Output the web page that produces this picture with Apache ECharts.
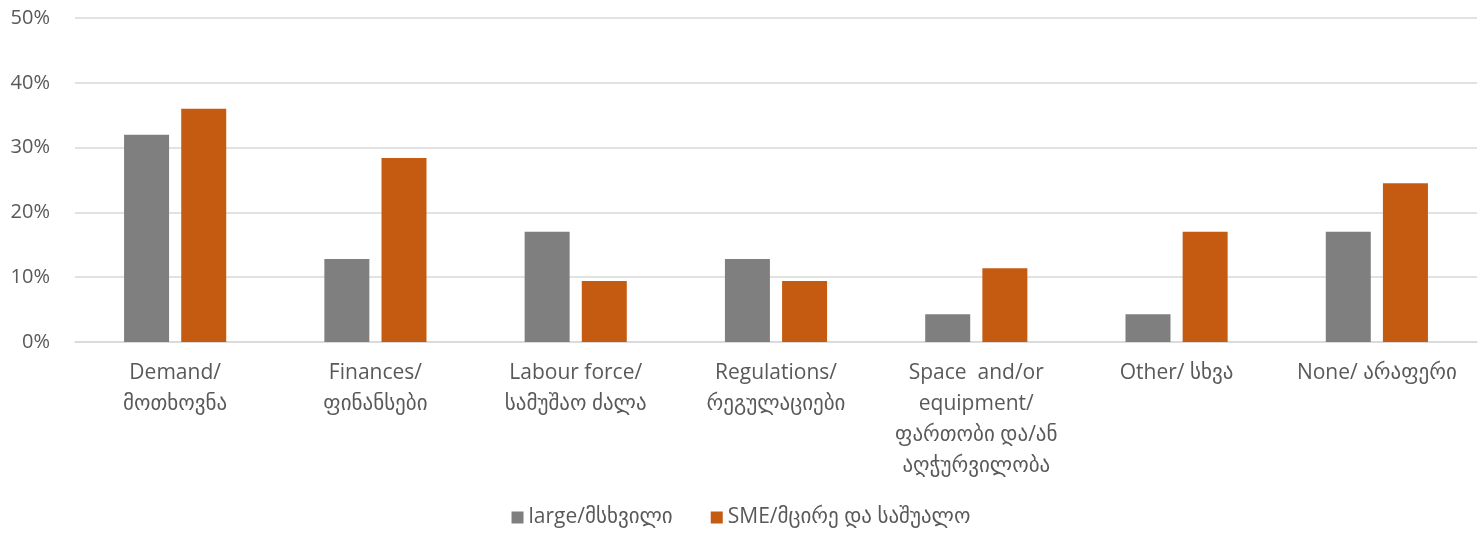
<!DOCTYPE html>
<html><head><meta charset="utf-8">
<script src="https://cdn.jsdelivr.net/npm/echarts@6/dist/echarts.min.js"></script>
<style>html,body{margin:0;padding:0;background:#fff}#c{width:1482px;height:535px}</style>
</head><body><div id="c"></div>
<script>
const categories = ["Demand/\nმოთხოვნა","Finances/\nფინანსები","Labour force/\nსამუშაო ძალა","Regulations/\nრეგულაციები","Space  and/or\nequipment/\nფართობი და/ან\nაღჭურვილობა","Other/ სხვა","None/ არაფერი"];
const largeValues = [32, 12.8, 17, 12.8, 4.3, 4.3, 17];
const smeValues = [36, 28.4, 9.4, 9.4, 11.4, 17, 24.5];
const seriesNames = ["large/მსხვილი","SME/მცირე და საშუალო"];
const FONT = "'Open Sans','DejaVu Sans',sans-serif";
const chart = echarts.init(document.getElementById('c'), null, {renderer:'canvas'});
chart.setOption({
  animation:false,
  textStyle:{fontFamily:FONT},
  grid:{left:75,right:5,top:18,bottom:193,containLabel:false},
  legend:{bottom:2,left:'center',itemWidth:12,itemHeight:12,itemGap:38,icon:'rect',
    textStyle:{fontSize:21,color:'#595959',fontFamily:FONT},
    data:seriesNames},
  xAxis:{type:'category',data:categories,
    axisLine:{lineStyle:{color:'#d9d9d9',width:1.5}},axisTick:{show:false},
    axisLabel:{fontSize:21,color:'#595959',lineHeight:31,margin:16,interval:0,fontFamily:FONT}},
  yAxis:{type:'value',min:0,max:50,interval:10,
    axisLabel:{formatter:'{value}%',fontSize:20,color:'#595959',margin:25,fontFamily:FONT},
    splitLine:{lineStyle:{color:'#d9d9d9',width:1.5}},axisLine:{show:false},axisTick:{show:false}},
  series:[
    {name:seriesNames[0],type:'bar',data:largeValues,barWidth:45,barGap:'27%',itemStyle:{color:'#7f7f7f'}},
    {name:seriesNames[1],type:'bar',data:smeValues,barWidth:45,itemStyle:{color:'#c55a11'}}
  ]
});
</script></body></html>
